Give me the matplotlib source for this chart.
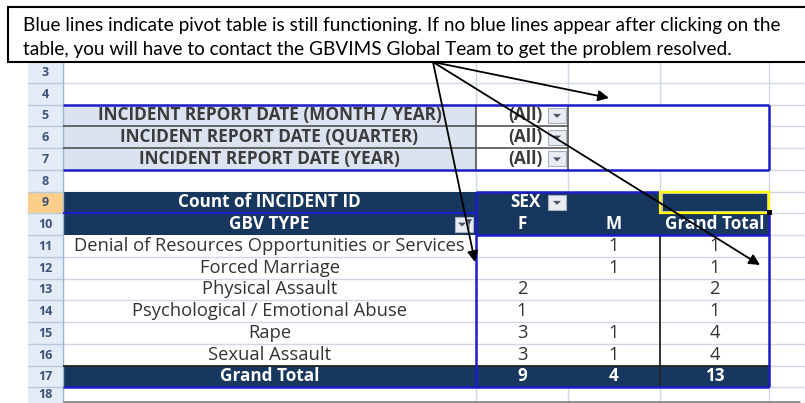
import matplotlib.pyplot as plt
from matplotlib.patches import Rectangle, Polygon

# Данные сводной таблицы
note_lines = [
    "Blue lines indicate pivot table is still functioning. If no blue lines appear after clicking on the",
    "table, you will have to contact the GBVIMS Global Team to get the problem resolved.",
]
filter_labels = [
    "INCIDENT REPORT DATE (MONTH / YEAR)",
    "INCIDENT REPORT DATE (QUARTER)",
    "INCIDENT REPORT DATE (YEAR)",
]
filter_values = ["(All)", "(All)", "(All)"]
gbv_types = [
    "Denial of Resources Opportunities or Services",
    "Forced Marriage",
    "Physical Assault",
    "Psychological / Emotional Abuse",
    "Rape",
    "Sexual Assault",
]
f_counts = [None, None, 2, 1, 3, 3]
m_counts = [1, 1, None, None, 1, 1]
row_numbers = list(range(3, 19))

# Цвета
NAVY = "#17375e"
BLUE = "#1c1cc8"
GRID = "#d0d7e5"
HDR_FILL = "#e4ecf7"
HDR_TEXT = "#3d5277"
FILTER_FILL = "#dae3ef"
TXT = "#333333"
FONT = "Open Sans"
NOTE_FONT = "Lato"

# Геометрия листа (пиксели)
TOP, RH = 61.0, 21.75
XS = [28, 63, 476, 568, 660, 769, 805]


def rt(k):
    return TOP + (k - 3) * RH


def rm(k):
    return rt(k) + RH / 2


fig = plt.figure(figsize=(8.05, 4.03), dpi=100)
ax = fig.add_axes([0, 0, 1, 1])
ax.set_xlim(0, 805)
ax.set_ylim(403, 0)
ax.axis("off")


def hline(y, x0, x1, c=GRID, lw=1.0, z=1):
    ax.plot([x0, x1], [y, y], color=c, lw=lw, zorder=z, solid_capstyle="butt")


def vline(x, y0, y1, c=GRID, lw=1.0, z=1):
    ax.plot([x, x], [y0, y1], color=c, lw=lw, zorder=z, solid_capstyle="butt")


def fill(x0, x1, y0, y1, c, z=2):
    ax.add_patch(Rectangle((x0, y0), x1 - x0, y1 - y0, facecolor=c, edgecolor="none", zorder=z))


def button(x0, yc, funnel=False):
    ax.add_patch(Rectangle((x0, yc - 7.5), 18, 15, facecolor="#e9edf3", edgecolor="#a7b0bf", lw=0.8, zorder=4))
    cx = x0 + 9 if not funnel else x0 + 7
    ax.add_patch(Polygon([[cx - 4, yc - 1.5], [cx + 4, yc - 1.5], [cx, yc + 2.5]], closed=True,
                         facecolor="#4a5568", edgecolor="none", zorder=5))
    if funnel:
        ax.add_patch(Polygon([[x0 + 11, yc - 5], [x0 + 17, yc - 5], [x0 + 14.5, yc], [x0 + 14.5, yc + 5],
                              [x0 + 13.5, yc + 5], [x0 + 13.5, yc]], closed=True,
                             facecolor="#4a5568", edgecolor="none", zorder=5))


# Сетка
for k in row_numbers:
    hline(rt(k) + RH, XS[1], XS[-1])
for x in XS[2:-1]:
    vline(x, rt(3), 403)

# Заголовки строк
fill(XS[0], XS[1], rt(3), 403, HDR_FILL, z=2)
fill(XS[0], XS[1], rt(9), rt(10), "#fbcf8a", z=2)
for k in row_numbers:
    hline(rt(k) + RH, XS[0], XS[1], c="#b8c9de", z=3)
vline(XS[1], rt(3), 403, c="#9eb6ce", z=3)

# Фильтры (строки 5-7)
for i in range(3):
    k = 5 + i
    fill(XS[1], XS[2], rt(k), rt(k) + RH, FILTER_FILL)
    fill(XS[2], XS[3], rt(k), rt(k) + RH, "white")
    fill(XS[3], XS[5], rt(k), rt(k) + RH, "white")
for k in (6, 7):
    hline(rt(k), XS[1], XS[3], c="#444444", lw=1.1, z=3)
vline(XS[2], rt(5), rt(8), c="#444444", lw=1.1, z=3)
vline(XS[3], rt(5), rt(8), c="#444444", lw=1.1, z=3)

# Шапка сводной таблицы (строки 9-10) и итог (строка 17)
fill(XS[1], XS[4], rt(9), rt(11), NAVY)
fill(XS[4], XS[5], rt(9), rt(11), NAVY)
fill(XS[1], XS[5], rt(17), rt(18), NAVY)
for k in range(11, 17):
    fill(XS[1], XS[5], rt(k), rt(k) + RH, "white", z=1.5)
for k in range(12, 17):
    hline(rt(k), XS[1], XS[5], c=GRID, z=2.5)
vline(XS[4], rt(11), rt(18), c="#222222", lw=1.3, z=3)
hline(rt(17), XS[1], XS[5], c="#222222", lw=1.3, z=3)
vline(XS[4], rt(9), rt(10), c="white", lw=1.0, z=3)

# Синие границы
hline(rt(5), XS[1], XS[5], c=BLUE, lw=1.8, z=3.5)
hline(rt(8), XS[1], XS[5], c=BLUE, lw=1.8, z=3.5)
vline(XS[5], rt(5), rt(8), c=BLUE, lw=1.8, z=3.5)
hline(rt(9), XS[2], XS[4], c=BLUE, lw=1.8, z=3.5)
hline(rt(10), XS[1], XS[2], c=BLUE, lw=1.6, z=3.5)
hline(rt(11), XS[2], XS[5], c=BLUE, lw=1.8, z=3.5)
vline(XS[2], rt(9), rt(18), c=BLUE, lw=1.8, z=3.5)
vline(XS[5], rt(10), rt(18), c=BLUE, lw=1.8, z=3.5)
hline(rt(18), XS[1], XS[5], c=BLUE, lw=1.8, z=3.5)

# Активная ячейка E9
ax.add_patch(Rectangle((XS[4] + 1.5, rt(9) + 1.5), XS[5] - XS[4] - 3, RH - 3, facecolor="none",
                       edgecolor="#f3dcb4", lw=1.2, zorder=3.6))
ax.add_patch(Rectangle((XS[4], rt(9)), XS[5] - XS[4], RH, facecolor="none",
                       edgecolor="#ffff00", lw=1.6, zorder=3.7))
ax.add_patch(Rectangle((XS[5] - 2, rt(10) - 3), 5, 5, facecolor="black", zorder=3.8))

# Нижняя граница видимой области
hline(401.5, XS[1], 800, c="#8c8c8c", lw=2.0, z=3)

# Тексты
cB = (XS[1] + XS[2]) / 2
cC = (XS[2] + XS[3]) / 2
cD = (XS[3] + XS[4]) / 2
cE = (XS[4] + XS[5]) / 2
groups = {"data": [], "filt": [], "head": []}

for k in row_numbers:
    y = min(rm(k) + 0.5, 394)  # последняя строка обрезана краем
    ax.text(45, y, str(k), ha="center", va="center", fontsize=9, color=HDR_TEXT,
            fontweight="bold", family=FONT, zorder=4)

for i, lab in enumerate(filter_labels):
    k = 5 + i
    groups["filt"].append(ax.text(cB, rm(k), lab, ha="center", va="center", color="#3c3c3c",
                                  fontweight="bold", family=FONT, fontsize=10, zorder=4))
    groups["filt"].append(ax.text(543, rm(k), filter_values[i], ha="right", va="center", color="#3c3c3c",
                                  fontweight="bold", family=FONT, fontsize=10, zorder=4))
    button(548, rm(k))

groups["head"].append(ax.text(cB, rm(9), "Count of INCIDENT ID", ha="center", va="center", color="white",
                              fontweight="bold", family=FONT, fontsize=10, zorder=4))
groups["head"].append(ax.text(cB, rm(10), "GBV TYPE", ha="center", va="center", color="white",
                              fontweight="bold", family=FONT, fontsize=10, zorder=4))
groups["head"].append(ax.text(541, rm(9), "SEX", ha="right", va="center", color="white",
                              fontweight="bold", family=FONT, fontsize=10, zorder=4))
button(548, rm(9))
button(455, rm(10), funnel=True)
for x, s in ((cC, "F"), (cD, "M"), (cE, "Grand Total")):
    groups["head"].append(ax.text(x, rm(10), s, ha="center", va="center", color="white",
                                  fontweight="bold", family=FONT, fontsize=10, zorder=4))

tot_f = tot_m = 0
for i, lab in enumerate(gbv_types):
    k = 11 + i
    groups["data"].append(ax.text(cB, rm(k), lab, ha="center", va="center", color=TXT,
                                  family=FONT, fontsize=10, zorder=4))
    f, m = f_counts[i], m_counts[i]
    if f is not None:
        groups["data"].append(ax.text(cC, rm(k), str(f), ha="center", va="center", color=TXT,
                                      family=FONT, fontsize=10, zorder=4))
        tot_f += f
    if m is not None:
        groups["data"].append(ax.text(cD, rm(k), str(m), ha="center", va="center", color=TXT,
                                      family=FONT, fontsize=10, zorder=4))
        tot_m += m
    groups["data"].append(ax.text(cE, rm(k), str((f or 0) + (m or 0)), ha="center", va="center",
                                  color=TXT, family=FONT, fontsize=10, zorder=4))

groups["head"].append(ax.text(cB, rm(17), "Grand Total", ha="center", va="center", color="white",
                              fontweight="bold", family=FONT, fontsize=10, zorder=4))
for x, v in ((cC, tot_f), (cD, tot_m), (cE, tot_f + tot_m)):
    groups["head"].append(ax.text(x, rm(17), str(v), ha="center", va="center", color="white",
                                  fontweight="bold", family=FONT, fontsize=10, zorder=4))

# Поясняющая рамка
ax.add_patch(Rectangle((8, 7), 820, 55, facecolor="white", edgecolor="black", lw=1.5, zorder=6,
                       clip_on=False))
note = [ax.text(23, 25 + 24 * i, s, ha="left", va="center", color="black", family=NOTE_FONT,
                fontsize=14, zorder=7) for i, s in enumerate(note_lines)]

# Подгонка размеров шрифтов под ширину в исходнике
fig.canvas.draw()
r = fig.canvas.get_renderer()


def scale_group(ref, width, items):
    w = ref.get_window_extent(r).width
    size = ref.get_fontsize() * width / w
    for t in items:
        t.set_fontsize(size)


scale_group(note[0], 764, note)
scale_group(groups["data"][0], 390, groups["data"])
scale_group(groups["filt"][0], 343, groups["filt"])
scale_group(groups["head"][0], 182, groups["head"])

# Стрелки
origin = (433, 62)
targets = [(609, 98), (475, 262), (760, 265)]
for tx, ty in targets:
    ax.annotate("", xy=(tx, ty), xytext=origin,
                arrowprops=dict(arrowstyle="-|>", color="black", lw=1.3, mutation_scale=16,
                                shrinkA=0, shrinkB=0), zorder=8)

fig.savefig("out.png", dpi=100)
